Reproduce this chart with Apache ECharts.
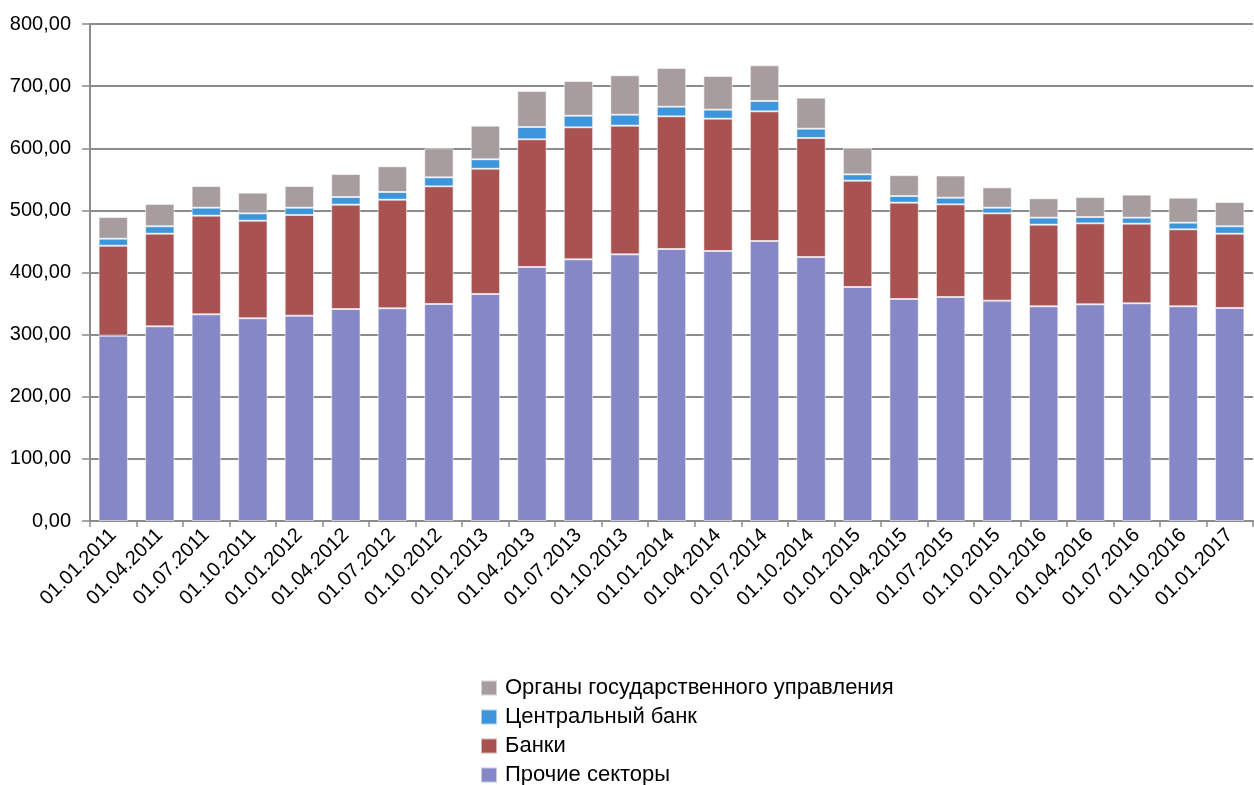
<!DOCTYPE html>
<html>
<head>
<meta charset="utf-8">
<script src="https://cdn.jsdelivr.net/npm/echarts@6/dist/echarts.min.js"></script>
<style>
html,body{margin:0;padding:0;background:#fff;}
#chart{width:1254px;height:785px;}
</style>
</head>
<body>
<div id="chart"></div>
<script>
const categories = ['01.01.2011','01.04.2011','01.07.2011','01.10.2011','01.01.2012','01.04.2012','01.07.2012','01.10.2012','01.01.2013','01.04.2013','01.07.2013','01.10.2013','01.01.2014','01.04.2014','01.07.2014','01.10.2014','01.01.2015','01.04.2015','01.07.2015','01.10.2015','01.01.2016','01.04.2016','01.07.2016','01.10.2016','01.01.2017'];
const otherSectors = [298.3,313.4,332.7,326.3,330.5,341.2,342.4,349.3,365.4,408.9,421.2,429.2,437.8,434.6,450.7,425.0,376.7,357.3,360.6,354.7,345.6,348.8,350.4,345.6,342.9];
const banks = [144.8,149.1,158.8,157.1,162.1,168.0,174.8,189.4,201.7,205.5,212.5,207.2,213.6,213.0,208.7,191.5,171.1,155.1,149.1,140.5,131.4,130.3,128.2,123.9,119.6];
const centralBank = [11.3,11.9,12.8,11.8,11.7,12.3,12.4,14.5,15.1,19.8,18.7,17.6,15.5,14.5,16.7,15.0,10.2,10.6,10.7,9.1,11.3,10.2,9.7,10.7,11.9];
const government = [34.9,35.9,34.9,33.3,34.9,37.0,41.3,46.7,54.2,58.0,55.8,63.4,62.3,54.2,57.4,49.9,42.9,33.7,35.7,32.8,31.1,32.2,37.0,40.2,39.1];
const names = ['Органы государственного управления','Центральный банк','Банки','Прочие секторы'];
const yTicks = {min:0, max:800, interval:100};

const chart = echarts.init(document.getElementById('chart'), null, {renderer:'canvas'});
const FONT = 'Liberation Sans, Arial, sans-serif';
function bar(name, data, color){
  return {name, type:'bar', stack:'total', data, barCategoryGap:'37%',
    itemStyle:{color, borderColor:'rgba(255,255,255,0.55)', borderWidth:1},
    emphasis:{disabled:true}};
}
chart.setOption({
  animation:false,
  grid:{left:90, right:1, top:24, bottom:264, containLabel:false},
  legend:{
    orient:'vertical', left:475, top:672, height:120, itemWidth:16, itemHeight:15, itemGap:7,
    icon:'rect', selectedMode:false,
    data:names,
    textStyle:{fontFamily:FONT, fontSize:22, color:'#000', padding:[0,0,0,3]}
  },
  xAxis:{
    type:'category', data:categories,
    axisLine:{lineStyle:{color:'#8c8c8c', width:2}},
    axisTick:{show:true, alignWithLabel:false, length:6, lineStyle:{color:'#8c8c8c', width:1.5}},
    axisLabel:{rotate:45, interval:0, margin:11, fontFamily:FONT, fontSize:20, color:'#000'}
  },
  yAxis:{
    type:'value', min:yTicks.min, max:yTicks.max, interval:yTicks.interval,
    axisLine:{show:true, lineStyle:{color:'#8c8c8c', width:2}},
    axisTick:{show:true, length:8, lineStyle:{color:'#8c8c8c', width:1.5}},
    splitLine:{lineStyle:{color:'#8c8c8c', width:2}},
    axisLabel:{margin:19, fontFamily:FONT, fontSize:20, color:'#000',
      formatter:v => v.toFixed(2).replace('.', ',')}
  },
  series:[
    bar(names[3], otherSectors, '#8587C6'),
    bar(names[2], banks, '#A95252'),
    bar(names[1], centralBank, '#3D96DC'),
    bar(names[0], government, '#A79C9E')
  ]
});
</script>
</body>
</html>
